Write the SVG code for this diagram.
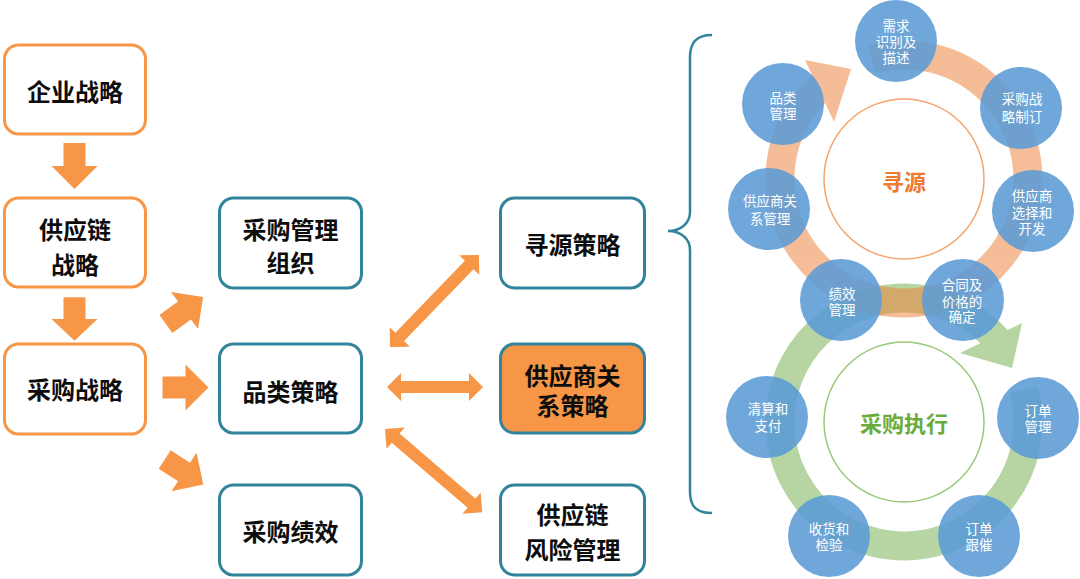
<svg xmlns="http://www.w3.org/2000/svg" width="1080" height="579" viewBox="0 0 1080 579">
<style>
.box-o{fill:#fff;stroke:#F79646;stroke-width:3}
.box-t{fill:#fff;stroke:#31849B;stroke-width:3}
.box-f{fill:#F79646;stroke:#31849B;stroke-width:3}
.bt{font-family:"Noto Sans CJK SC","Noto Sans",sans-serif;font-size:24px;font-weight:700;fill:#0d0d0d;text-anchor:middle;dominant-baseline:central}
.arr{fill:#F79646}
.bc{fill:#5B9BD5;opacity:0.88}
.ct{font-family:"Noto Sans CJK SC","Noto Sans",sans-serif;font-size:13.5px;fill:#fff;text-anchor:middle;dominant-baseline:central}
</style>
<defs>
<path id="blk" d="M-23,-11 H0 V-23 L23,0 L0,23 V11 H-23 Z"/>
</defs>
<rect width="1080" height="579" fill="#fff"/>

<g id="connectors">
<use href="#blk" class="arr" transform="translate(74.5,166) rotate(90)"/>
<use href="#blk" class="arr" transform="translate(74.5,319) rotate(90) scale(0.95,1)"/>
<use href="#blk" class="arr" transform="translate(184.5,310.5) rotate(-36)"/>
<use href="#blk" class="arr" transform="translate(185.5,387.5)"/>
<use href="#blk" class="arr" transform="translate(184,472) rotate(33)"/>
<path class="arr" transform="translate(390,347) rotate(-46)" d="M0,0 L14,-14 L14,-6 L114,-6 L114,-14 L128,0 L114,14 L114,6 L14,6 L14,14 Z"/>
<path class="arr" transform="translate(387,387)" d="M0,0 L14,-14 L14,-6 L82,-6 L82,-14 L96,0 L82,14 L82,6 L14,6 L14,14 Z"/>
<path class="arr" transform="translate(385,429) rotate(40.6)" d="M0,0 L14,-14 L14,-6 L114,-6 L114,-14 L128,0 L114,14 L114,6 L14,6 L14,14 Z"/>
<path d="M712,35 C697,35 690,42 690,57 L690,212 C690,224 680,231 668,231 C680,231 690,238 690,250 L690,492 C690,507 697,513 712,513" fill="none" stroke="#31849B" stroke-width="2.5"/>
</g>

<g id="n-qiye"><rect class="box-o" x="4.5" y="45" width="141" height="89" rx="14"/><text class="bt" x="75" y="90">企业战略</text></g>
<g id="n-gongyinglian"><rect class="box-o" x="4.5" y="198" width="141" height="89" rx="14"/><text class="bt" x="75" y="228">供应链</text><text class="bt" x="75" y="263">战略</text></g>
<g id="n-caigouzhanlue"><rect class="box-o" x="4.5" y="344" width="141" height="90" rx="14"/><text class="bt" x="75" y="388">采购战略</text></g>

<g id="n-zuzhi"><rect class="box-t" x="219.5" y="198" width="142" height="90" rx="14"/><text class="bt" x="290.5" y="228">采购管理</text><text class="bt" x="290.5" y="261">组织</text></g>
<g id="n-pinlei"><rect class="box-t" x="219.5" y="344" width="142" height="89" rx="14"/><text class="bt" x="290.5" y="390">品类策略</text></g>
<g id="n-jixiao"><rect class="box-t" x="219.5" y="485" width="142" height="90" rx="14"/><text class="bt" x="290.5" y="530">采购绩效</text></g>

<g id="n-xunyuan"><rect class="box-t" x="500.5" y="198" width="144" height="90" rx="14"/><text class="bt" x="572.5" y="243">寻源策略</text></g>
<g id="n-gongyingshang"><rect class="box-f" x="500.5" y="344" width="144" height="89" rx="14"/><text class="bt" x="572.5" y="374">供应商关</text><text class="bt" x="572.5" y="404">系策略</text></g>
<g id="n-fengxian"><rect class="box-t" x="500.5" y="485" width="144" height="90" rx="14"/><text class="bt" x="572.5" y="513">供应链</text><text class="bt" x="572.5" y="548">风险管理</text></g>

<g id="cycle-exec" opacity="0.5">
<path d="M1023.8,389.9 A124,124 0 1 1 997.6,340.6" fill="none" stroke="#70AD47" stroke-width="29"/>
<polygon points="960,353 1022,323 1012,368" fill="#70AD47"/>
</g>
<g id="cycle-source" opacity="0.5">
<path d="M871.9,59.2 A124,124 0 1 1 822.6,85.4" fill="none" stroke="#ED7D31" stroke-width="29"/>
<polygon points="805,60 851,69 834,122" fill="#ED7D31"/>
</g>

<g id="hub-source">
<circle cx="904" cy="179" r="80" fill="none" stroke="#F4A46E" stroke-width="1.5"/>
<text x="904" y="180" font-family="Noto Sans CJK SC, sans-serif" font-size="22" font-weight="700" fill="#EE7B30" text-anchor="middle" dominant-baseline="central">寻源</text>
</g>
<g id="hub-exec">
<circle cx="904" cy="422" r="80" fill="none" stroke="#98C878" stroke-width="1.5"/>
<text x="904" y="422" font-family="Noto Sans CJK SC, sans-serif" font-size="22" font-weight="700" fill="#6AAB3C" text-anchor="middle" dominant-baseline="central">采购执行</text>
</g>

<g id="c-xuqiu"><circle class="bc" cx="896" cy="41" r="41"/><text class="ct" x="896" y="25">需求</text><text class="ct" x="896" y="41">识别及</text><text class="ct" x="896" y="57">描述</text></g>
<g id="c-pinlei"><circle class="bc" cx="783" cy="104" r="41"/><text class="ct" x="783" y="97">品类</text><text class="ct" x="783" y="113">管理</text></g>
<g id="c-zhanlue"><circle class="bc" cx="1021" cy="108" r="41"/><text class="ct" x="1022" y="98">采购战</text><text class="ct" x="1022" y="116">略制订</text></g>
<g id="c-guanxi"><circle class="bc" cx="769" cy="209" r="41"/><text class="ct" x="770" y="200">供应商关</text><text class="ct" x="770" y="218">系管理</text></g>
<g id="c-xuanze"><circle class="bc" cx="1033" cy="211" r="41"/><text class="ct" x="1032" y="195">供应商</text><text class="ct" x="1032" y="212">选择和</text><text class="ct" x="1032" y="228">开发</text></g>
<g id="c-jixiao"><circle class="bc" cx="841" cy="300" r="41"/><text class="ct" x="842" y="293">绩效</text><text class="ct" x="842" y="309">管理</text></g>
<g id="c-hetong"><circle class="bc" cx="963" cy="300" r="41"/><text class="ct" x="962" y="284">合同及</text><text class="ct" x="962" y="301">价格的</text><text class="ct" x="962" y="316">确定</text></g>
<g id="c-qingsuan"><circle class="bc" cx="767" cy="417" r="41"/><text class="ct" x="768" y="408">清算和</text><text class="ct" x="768" y="425">支付</text></g>
<g id="c-dingdan"><circle class="bc" cx="1038" cy="418" r="41"/><text class="ct" x="1038" y="410">订单</text><text class="ct" x="1038" y="426">管理</text></g>
<g id="c-shouhuo"><circle class="bc" cx="829" cy="536" r="41"/><text class="ct" x="829" y="528">收货和</text><text class="ct" x="829" y="544">检验</text></g>
<g id="c-gencui"><circle class="bc" cx="979" cy="536" r="41"/><text class="ct" x="979" y="528">订单</text><text class="ct" x="979" y="544">跟催</text></g>
</svg>
